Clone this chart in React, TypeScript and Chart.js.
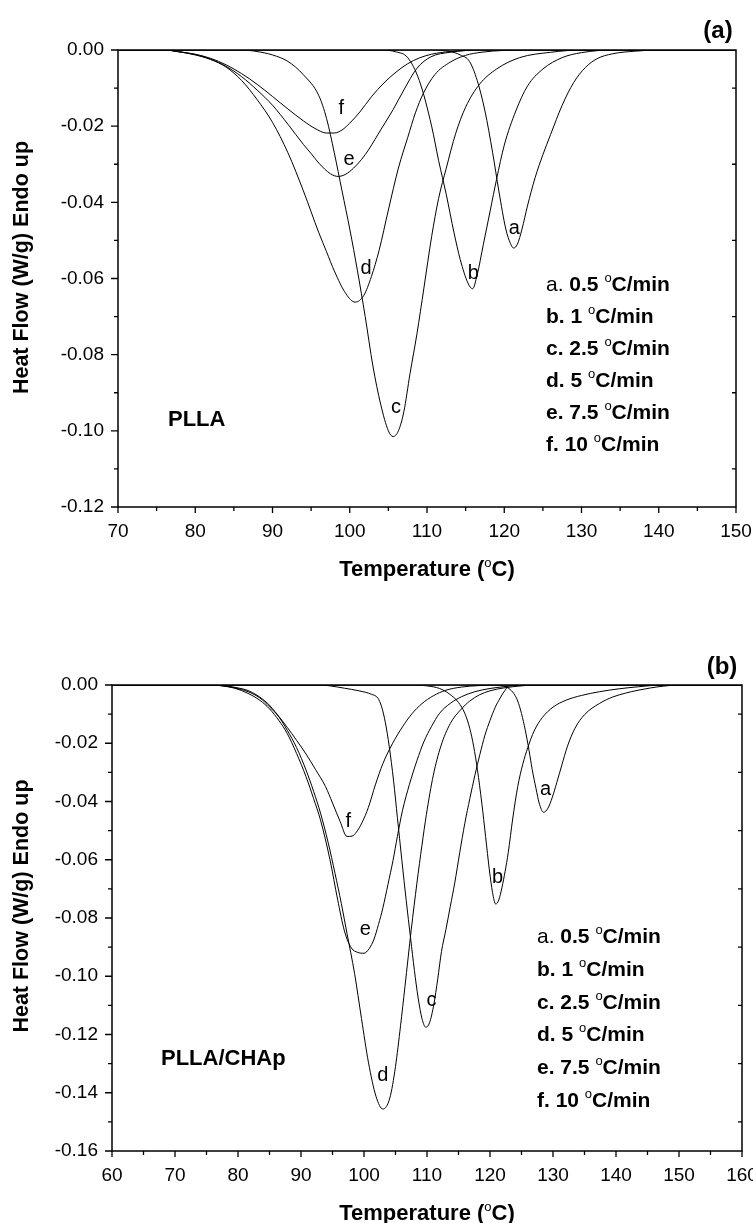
import React, { useEffect, useRef } from 'react';
import { Chart, registerables } from 'chart.js';

Chart.register(...registerables);

type Pt = [number, number];

const W = 753;
const NARROW = "'Liberation Sans Narrow', 'Arial Narrow', 'Liberation Sans', Arial, sans-serif";
const WIDE = "'Liberation Sans', Arial, sans-serif";

// ---- labels ----
const curveLetters = ['a', 'b', 'c', 'd', 'e', 'f'];
const ratePrefix = ['a.', 'b.', 'c.', 'd.', 'e.', 'f.'];
const rateValue = ['0.5', '1', '2.5', '5', '7.5', '10'];

// ---- panel (a) PLLA ----
const pllaXTicks = [70, 80, 90, 100, 110, 120, 130, 140, 150];
const pllaXMinor = [75, 85, 95, 105, 115, 125, 135, 145];
const pllaYTicks = [0, -0.02, -0.04, -0.06, -0.08, -0.1, -0.12];
const pllaYMinor = [-0.01, -0.03, -0.05, -0.07, -0.09, -0.11];

const pllaA: Pt[] = [[70,0],[110,0],[113,-0.0004],[114.3,-0.0013],[115.5,-0.003],[116.5,-0.008],[117.5,-0.016],[118.5,-0.027],[119.3,-0.037],[120.2,-0.047],[120.8,-0.0508],[121.2,-0.052],[121.7,-0.051],[122.3,-0.047],[123,-0.041],[124,-0.0335],[125,-0.0275],[126,-0.0222],[127.5,-0.0145],[129,-0.0085],[130.5,-0.0046],[132,-0.0023],[134,-0.001],[137,-0.0003],[140,0],[150,0]];
const pllaB: Pt[] = [[70,0],[104,0],[106,-0.0005],[107.5,-0.002],[109,-0.008],[110.6,-0.02],[111.5,-0.029],[112.5,-0.038],[113.5,-0.048],[114.3,-0.055],[115.3,-0.0612],[115.9,-0.0627],[116.5,-0.059],[117.3,-0.051],[118.2,-0.042],[119,-0.034],[120,-0.025],[121.5,-0.016],[123,-0.0095],[125,-0.005],[127.5,-0.002],[130,-0.0007],[134,0],[150,0]];
const pllaC: Pt[] = [[70,0],[86,0],[88,-0.0004],[90,-0.0013],[92,-0.003],[94,-0.0065],[96,-0.012],[97,-0.018],[98,-0.027],[99,-0.037],[100,-0.047],[101,-0.058],[102,-0.07],[103,-0.083],[104,-0.093],[105,-0.1],[105.6,-0.1015],[106.3,-0.1],[107,-0.095],[107.8,-0.085],[108.7,-0.0745],[109.6,-0.0625],[110.6,-0.049],[111.5,-0.039],[112.5,-0.031],[113.7,-0.022],[115,-0.015],[116.8,-0.009],[119,-0.005],[122,-0.002],[126,-0.0006],[130,0],[150,0]];
const pllaD: Pt[] = [[70,0],[76,0],[78,-0.0005],[80,-0.0013],[82,-0.0025],[84,-0.0045],[86,-0.008],[88,-0.013],[90,-0.019],[92,-0.027],[94,-0.037],[96,-0.048],[97,-0.053],[98,-0.058],[99.5,-0.064],[100.7,-0.0662],[101.8,-0.0645],[102.8,-0.0595],[103.8,-0.0526],[105,-0.042],[106.3,-0.031],[107.5,-0.023],[108.5,-0.0165],[109.5,-0.0115],[111,-0.0065],[113,-0.0032],[115,-0.0014],[117,-0.0006],[120,-0.0001],[123,0],[150,0]];
const pllaE: Pt[] = [[70,0],[76,0],[78,-0.0005],[80,-0.0012],[82,-0.0024],[84,-0.0043],[86,-0.007],[88,-0.0105],[90,-0.0145],[92,-0.0195],[94,-0.0248],[95,-0.0272],[96,-0.0297],[97.5,-0.0325],[98.5,-0.0332],[99.5,-0.0326],[100.5,-0.031],[101.5,-0.0288],[102.5,-0.026],[104,-0.021],[105.6,-0.0157],[107,-0.0105],[108.7,-0.0048],[110.5,-0.0018],[113,-0.0006],[117,0],[150,0]];
const pllaF: Pt[] = [[70,0],[76,0],[78,-0.0005],[80,-0.0011],[82,-0.0022],[84,-0.0039],[86,-0.0062],[88,-0.009],[90,-0.0122],[92,-0.0155],[94,-0.0186],[95.5,-0.0206],[97,-0.0218],[98,-0.0218],[99,-0.021],[100,-0.0192],[101.3,-0.0163],[102.8,-0.0123],[104.4,-0.0087],[106,-0.0058],[107.5,-0.0036],[109,-0.0021],[110.6,-0.0011],[113,-0.0004],[117,0],[150,0]];
const pllaLabelPos: Pt[] = [[121.3,-0.0469],[116.0,-0.0587],[106.0,-0.0939],[102.1,-0.0574],[99.9,-0.0288],[98.9,-0.0154]];

// ---- panel (b) PLLA/CHAp ----
const chapXTicks = [60, 70, 80, 90, 100, 110, 120, 130, 140, 150, 160];
const chapXMinor = [65, 75, 85, 95, 105, 115, 125, 135, 145, 155];
const chapYTicks = [0, -0.02, -0.04, -0.06, -0.08, -0.1, -0.12, -0.14, -0.16];
const chapYMinor = [-0.01, -0.03, -0.05, -0.07, -0.09, -0.11, -0.13, -0.15];

const chapA: Pt[] = [[60,0],[121,0],[122.2,-0.0004],[123,-0.0012],[123.8,-0.003],[124.4,-0.0055],[125,-0.0098],[125.6,-0.0155],[126.2,-0.0225],[126.7,-0.029],[127.3,-0.0355],[127.8,-0.0405],[128.5,-0.0437],[129.2,-0.0423],[129.9,-0.0385],[130.6,-0.0335],[131.4,-0.0275],[132.3,-0.021],[133.5,-0.0148],[135,-0.0102],[137.4,-0.0063],[139.5,-0.0041],[141.5,-0.0028],[143.5,-0.0018],[145.5,-0.001],[147.5,-0.0004],[150,0],[160,0]];
const chapB: Pt[] = [[60,0],[108,0],[110,-0.0003],[112,-0.0012],[113.5,-0.003],[115,-0.006],[116,-0.0097],[116.8,-0.015],[117.4,-0.021],[118,-0.029],[118.7,-0.0406],[119.3,-0.052],[119.9,-0.0635],[120.4,-0.0712],[120.9,-0.0752],[121.4,-0.0738],[121.9,-0.0695],[122.4,-0.064],[122.9,-0.0575],[123.6,-0.046],[124.4,-0.0349],[125.2,-0.0272],[126,-0.0215],[127,-0.0158],[128.3,-0.0112],[130,-0.0076],[132.1,-0.0052],[134.5,-0.0036],[137.4,-0.0023],[140.5,-0.0013],[143.6,-0.0006],[147.4,0],[160,0]];
const chapC: Pt[] = [[60,0],[93,0],[94.6,-0.0003],[96.9,-0.0011],[99.2,-0.002],[101.2,-0.0032],[102.2,-0.0045],[102.8,-0.0075],[103.4,-0.013],[104,-0.021],[104.7,-0.033],[105.3,-0.0455],[106,-0.06],[106.7,-0.074],[107.4,-0.087],[108,-0.098],[108.6,-0.1075],[109.2,-0.1145],[109.8,-0.1175],[110.4,-0.116],[111.1,-0.1095],[111.7,-0.101],[112.3,-0.0915],[113,-0.084],[113.7,-0.076],[114.4,-0.068],[115.2,-0.0575],[116,-0.0475],[116.8,-0.039],[117.6,-0.031],[118.4,-0.0238],[119.2,-0.0172],[120,-0.0122],[120.8,-0.0078],[121.6,-0.0045],[122.4,-0.0018],[123.2,0],[160,0]];
const chapD: Pt[] = [[60,0],[76,0],[77.5,-0.0003],[79.5,-0.001],[81.6,-0.0023],[83.5,-0.0045],[85,-0.0075],[86.5,-0.011],[87.8,-0.0155],[89.3,-0.0215],[90.8,-0.0292],[92,-0.0365],[93.1,-0.044],[94.3,-0.054],[95.4,-0.0647],[96.4,-0.075],[97.3,-0.0853],[98.5,-0.099],[99.6,-0.1145],[100.7,-0.1295],[101.9,-0.1412],[103,-0.1456],[104.1,-0.1418],[105,-0.131],[105.8,-0.117],[106.5,-0.1036],[107.5,-0.084],[108.4,-0.068],[109.2,-0.055],[109.9,-0.0445],[111,-0.031],[112.2,-0.021],[113.7,-0.0132],[115.3,-0.0086],[116.8,-0.0055],[118.3,-0.0034],[120,-0.002],[122.2,-0.001],[125,-0.0003],[127,0],[160,0]];
const chapE: Pt[] = [[60,0],[76,0],[77.5,-0.0003],[79.5,-0.0011],[81.6,-0.0029],[83.5,-0.0053],[85,-0.0082],[86.5,-0.0122],[87.8,-0.0166],[89.3,-0.0235],[90.8,-0.0315],[92,-0.039],[93.1,-0.0464],[94.6,-0.06],[95.8,-0.0735],[96.9,-0.0845],[98,-0.0903],[99,-0.0918],[100,-0.0921],[100.8,-0.0906],[101.6,-0.0872],[102.3,-0.0822],[103,-0.0765],[103.8,-0.0685],[104.6,-0.0603],[105.3,-0.052],[106.1,-0.0432],[107.2,-0.0342],[108.4,-0.026],[109.5,-0.0195],[110.7,-0.0143],[112,-0.0097],[113.7,-0.0063],[115.5,-0.004],[117.6,-0.0023],[120,-0.0012],[122.2,-0.0006],[126,0],[160,0]];
const chapF: Pt[] = [[60,0],[77,0],[78.5,-0.0004],[80,-0.001],[81.6,-0.0019],[83,-0.0035],[84.7,-0.0063],[86.3,-0.0103],[87.8,-0.0145],[89.3,-0.019],[90.8,-0.0237],[92.3,-0.029],[93.9,-0.0349],[95,-0.0405],[96.2,-0.0468],[97.3,-0.052],[98.1,-0.0519],[98.8,-0.0505],[99.7,-0.0472],[100.7,-0.042],[101.8,-0.0343],[103,-0.027],[104.5,-0.0202],[106.1,-0.0144],[107.6,-0.0099],[109.2,-0.0064],[111,-0.0037],[113,-0.0018],[115.5,-0.0007],[118.3,-0.0002],[121,0],[160,0]];
const chapLabelPos: Pt[] = [[128.8,-0.036],[121.2,-0.066],[110.7,-0.1082],[103,-0.134],[100.2,-0.0841],[97.5,-0.047]];

// ---- layout ----
interface Panel {
  id: string; H: number; top: number;
  area: { left: number; right: number; top: number; bottom: number };
  xMin: number; xMax: number; yMin: number; yMax: number;
  xTicks: number[]; xMinor: number[]; yTicks: number[]; yMinor: number[];
  series: Pt[][]; labelPos: Pt[];
  tag: string; tagPos: Pt; sample: string; samplePos: Pt;
  legendX: number; legendY0: number; legendDy: number;
  xTitleY: number; yTitleX: number; yTitleShift: number;
}

const panelA: Panel = {
  id: 'a', H: 612, top: 0,
  area: { left: 118, right: 736, top: 50, bottom: 507 },
  xMin: 70, xMax: 150, yMin: -0.12, yMax: 0,
  xTicks: pllaXTicks, xMinor: pllaXMinor, yTicks: pllaYTicks, yMinor: pllaYMinor,
  series: [pllaA, pllaB, pllaC, pllaD, pllaE, pllaF], labelPos: pllaLabelPos,
  tag: '(a)', tagPos: [718, 29], sample: 'PLLA', samplePos: [168, 418],
  legendX: 546, legendY0: 283, legendDy: 32,
  xTitleY: 568, yTitleX: 22, yTitleShift: -11,
};

const panelB: Panel = {
  id: 'b', H: 611, top: 612,
  area: { left: 112, right: 742, top: 73, bottom: 539 },
  xMin: 60, xMax: 160, yMin: -0.16, yMax: 0,
  xTicks: chapXTicks, xMinor: chapXMinor, yTicks: chapYTicks, yMinor: chapYMinor,
  series: [chapA, chapB, chapC, chapD, chapE, chapF], labelPos: chapLabelPos,
  tag: '(b)', tagPos: [722, 53], sample: 'PLLA/CHAp', samplePos: [161, 445],
  legendX: 537, legendY0: 323, legendDy: 32.8,
  xTitleY: 600, yTitleX: 22, yTitleShift: -12,
};

type Seg = { t: string; size: number; bold?: boolean; rise?: number; family?: string };
const fontOf = (s: Seg) => `${s.bold ? 'bold ' : ''}${s.size}px ${s.family || NARROW}`;

function drawRich(ctx: CanvasRenderingContext2D, segs: Seg[], x: number, y: number, align: 'left' | 'center') {
  let total = 0;
  for (const s of segs) { ctx.font = fontOf(s); total += ctx.measureText(s.t).width; }
  let cx = align === 'center' ? x - total / 2 : x;
  ctx.textAlign = 'left';
  ctx.textBaseline = 'alphabetic';
  for (const s of segs) {
    ctx.font = fontOf(s);
    ctx.fillText(s.t, cx, y - (s.rise || 0));
    cx += ctx.measureText(s.t).width;
  }
}

function decor(p: Panel) {
  return {
    id: 'decor_' + p.id,
    afterDraw(chart: any) {
      const ctx: CanvasRenderingContext2D = chart.ctx;
      const a = chart.chartArea;
      const xs = chart.scales.x;
      const ys = chart.scales.y;
      ctx.save();
      ctx.strokeStyle = '#000';
      ctx.fillStyle = '#000';
      ctx.lineWidth = 1.5;
      ctx.strokeRect(a.left, a.top, a.right - a.left, a.bottom - a.top);
      ctx.lineWidth = 1.3;
      ctx.beginPath();
      p.xTicks.forEach((v) => { const px = xs.getPixelForValue(v); ctx.moveTo(px, a.bottom); ctx.lineTo(px, a.bottom + 6); });
      p.xMinor.forEach((v) => { const px = xs.getPixelForValue(v); ctx.moveTo(px, a.bottom); ctx.lineTo(px, a.bottom + 4); });
      p.yTicks.forEach((v) => { const py = ys.getPixelForValue(v); ctx.moveTo(a.left - 7, py); ctx.lineTo(a.left, py); });
      p.yMinor.forEach((v) => {
        const py = ys.getPixelForValue(v);
        ctx.moveTo(a.left - 4, py); ctx.lineTo(a.left, py);
        ctx.moveTo(a.right, py); ctx.lineTo(a.right - 4, py);
      });
      ctx.stroke();

      // curve letters
      ctx.font = `20px ${NARROW}`;
      ctx.textAlign = 'center';
      ctx.textBaseline = 'middle';
      p.labelPos.forEach(([x, y], i) => {
        ctx.fillText(curveLetters[i], xs.getPixelForValue(x), ys.getPixelForValue(y));
      });

      // rate legend
      ratePrefix.forEach((pre, i) => {
        const base = p.legendY0 + i * p.legendDy + 8;
        drawRich(ctx, [
          { t: pre + ' ', size: 21, bold: i !== 0 },
          { t: rateValue[i] + ' ', size: 21, bold: true },
          { t: 'o', size: 13, rise: 9 },
          { t: 'C/min', size: 21, bold: true },
        ], p.legendX, base, 'left');
      });

      // sample name
      drawRich(ctx, [{ t: p.sample, size: 22, bold: true }], p.samplePos[0], p.samplePos[1] + 8, 'left');

      // panel tag
      drawRich(ctx, [{ t: p.tag, size: 24, bold: true }], p.tagPos[0], p.tagPos[1] + 9, 'center');

      // x title
      const cx = (a.left + a.right) / 2;
      drawRich(ctx, [
        { t: 'Temperature (', size: 22, bold: true },
        { t: 'o', size: 13, rise: 9 },
        { t: 'C)', size: 22, bold: true },
      ], cx, p.xTitleY + 8, 'center');

      // y title
      ctx.save();
      ctx.translate(p.yTitleX, (a.top + a.bottom) / 2 + p.yTitleShift);
      ctx.rotate(-Math.PI / 2);
      ctx.font = `bold 21.5px ${WIDE}`;
      ctx.textAlign = 'center';
      ctx.textBaseline = 'middle';
      ctx.fillText('Heat Flow (W/g) Endo up', 0, 0);
      ctx.restore();

      ctx.restore();
    },
  };
}

function makeChart(canvas: HTMLCanvasElement, p: Panel) {
  const datasets = p.series.map((s, i) => ({
    label: curveLetters[i],
    data: s.map(([x, y]) => ({ x, y })),
    borderColor: '#000',
    borderWidth: 1,
    pointRadius: 0,
    fill: false,
    cubicInterpolationMode: 'monotone' as const,
  }));
  const tickFont = { family: NARROW, size: 19 };
  return new Chart(canvas, {
    type: 'line',
    data: { datasets },
    options: {
      responsive: false,
      animation: false,
      devicePixelRatio: 1,
      events: [],
      layout: { padding: { top: p.area.top, left: 0, right: W - p.area.right, bottom: 0 } },
      plugins: { legend: { display: false }, tooltip: { enabled: false }, title: { display: false } },
      scales: {
        x: {
          type: 'linear', position: 'bottom', min: p.xMin, max: p.xMax,
          grid: { display: false, drawTicks: false }, border: { display: false },
          afterBuildTicks: (s: any) => { s.ticks = p.xTicks.map((v) => ({ value: v })); },
          afterFit: (s: any) => { s.height = p.H - p.area.bottom; s.paddingLeft = 0; s.paddingRight = 0; },
          ticks: { font: tickFont, color: '#000', padding: 13, maxRotation: 0, autoSkip: false, callback: (v: any) => String(v) },
        },
        y: {
          type: 'linear', position: 'left', min: p.yMin, max: p.yMax,
          grid: { display: false, drawTicks: false }, border: { display: false },
          afterBuildTicks: (s: any) => { s.ticks = p.yTicks.map((v) => ({ value: v })); },
          afterFit: (s: any) => { s.width = p.area.left; s.paddingTop = 0; s.paddingBottom = 0; },
          ticks: { font: tickFont, color: '#000', padding: 14, autoSkip: false, callback: (v: any) => Number(v).toFixed(2) },
        },
      },
    } as any,
    plugins: [decor(p)],
  });
}

export default function App() {
  const refA = useRef<HTMLCanvasElement>(null);
  const refB = useRef<HTMLCanvasElement>(null);
  useEffect(() => {
    const cA = makeChart(refA.current!, panelA);
    const cB = makeChart(refB.current!, panelB);
    return () => { cA.destroy(); cB.destroy(); };
  }, []);
  return (
    <div style={{ position: 'absolute', left: 0, top: 0, width: W, height: 1223, background: '#fff' }}>
      <canvas ref={refA} width={W} height={panelA.H} style={{ position: 'absolute', left: 0, top: panelA.top }} />
      <canvas ref={refB} width={W} height={panelB.H} style={{ position: 'absolute', left: 0, top: panelB.top }} />
    </div>
  );
}
